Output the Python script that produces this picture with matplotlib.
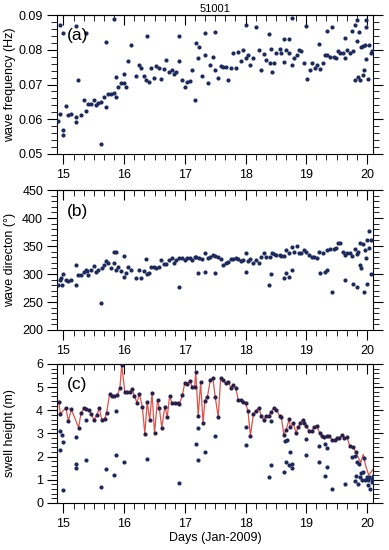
import matplotlib.pyplot as plt
from matplotlib.ticker import MultipleLocator

plt.rcParams['font.family'] = ['Liberation Sans', 'DejaVu Sans']

# (a) wave frequency
freq_day = [14.91, 14.95, 14.95, 14.99, 14.99, 14.99, 15.04, 15.08, 15.12, 15.2, 15.2, 15.2,
            15.24, 15.29, 15.33, 15.37, 15.37, 15.41, 15.45, 15.5, 15.53, 15.57, 15.62, 15.62,
            15.66, 15.7, 15.7, 15.74, 15.78, 15.83, 15.83, 15.87, 15.87, 15.9, 15.95, 15.99,
            15.99, 16.03, 16.07, 16.12, 16.2, 16.24, 16.28, 16.32, 16.36, 16.37, 16.41, 16.45,
            16.49, 16.53, 16.57, 16.61, 16.65, 16.69, 16.74, 16.78, 16.82, 16.86, 16.91, 16.91,
            16.96, 17.0, 17.04, 17.08, 17.12, 17.16, 17.18, 17.22, 17.24, 17.29, 17.33, 17.34,
            17.38, 17.42, 17.46, 17.5, 17.5, 17.55, 17.59, 17.63, 17.67, 17.71, 17.76, 17.8,
            17.84, 17.88, 17.92, 17.96, 18.0, 18.0, 18.04, 18.08, 18.13, 18.17, 18.22, 18.26,
            18.3, 18.34, 18.38, 18.4, 18.42, 18.43, 18.47, 18.51, 18.56, 18.59, 18.63, 18.64,
            18.67, 18.72, 18.72, 18.76, 18.76, 18.8, 18.84, 18.88, 18.92, 18.97, 19.0, 19.02,
            19.06, 19.1, 19.14, 19.18, 19.21, 19.23, 19.27, 19.31, 19.35, 19.35, 19.39, 19.43,
            19.45, 19.49, 19.52, 19.56, 19.6, 19.64, 19.64, 19.68, 19.72, 19.76, 19.77, 19.81,
            19.81, 19.83, 19.84, 19.86, 19.87, 19.88, 19.9, 19.93, 19.94, 19.96, 19.97, 19.98,
            19.98, 19.99, 20.01, 20.04, 20.06, 20.08]
freq_val = [0.0596, 0.0615, 0.0871, 0.0847, 0.057, 0.0555, 0.0637, 0.0613, 0.0615, 0.0606, 0.0592, 0.0868,
            0.0713, 0.0613, 0.0656, 0.0624, 0.0849, 0.0643, 0.0644, 0.0656, 0.0641, 0.0647, 0.0651, 0.0529,
            0.0663, 0.0634, 0.0823, 0.0673, 0.0673, 0.0675, 0.0889, 0.0665, 0.0723, 0.0694, 0.0704, 0.0704,
            0.0731, 0.0694, 0.0768, 0.0814, 0.0725, 0.0755, 0.0747, 0.0725, 0.0713, 0.0841, 0.0708, 0.0747,
            0.0718, 0.0752, 0.0747, 0.0717, 0.0744, 0.0771, 0.0737, 0.0742, 0.0731, 0.0737, 0.0768, 0.0841,
            0.0713, 0.0692, 0.0706, 0.0709, 0.0742, 0.0656, 0.0819, 0.0776, 0.0809, 0.0725, 0.0785, 0.0849,
            0.0704, 0.0757, 0.0779, 0.085, 0.0742, 0.072, 0.0752, 0.0749, 0.0749, 0.0713, 0.0747, 0.079,
            0.0747, 0.0793, 0.0768, 0.0799, 0.0871, 0.0777, 0.0785, 0.0755, 0.0776, 0.0866, 0.0799, 0.0742,
            0.0787, 0.0771, 0.0844, 0.0761, 0.0802, 0.0736, 0.0761, 0.079, 0.0802, 0.079, 0.083, 0.0764,
            0.0799, 0.083, 0.0792, 0.0756, 0.089, 0.0776, 0.0785, 0.0799, 0.0795, 0.0761, 0.0868, 0.0715,
            0.0742, 0.0761, 0.0747, 0.0757, 0.0816, 0.0744, 0.0761, 0.0785, 0.0854, 0.0785, 0.078, 0.0866,
            0.078, 0.0777, 0.0795, 0.079, 0.0792, 0.0776, 0.0833, 0.0799, 0.079, 0.0854, 0.0795, 0.0713,
            0.0871, 0.0826, 0.0886, 0.0723, 0.085, 0.0713, 0.0809, 0.0728, 0.0812, 0.0742, 0.0814, 0.0886,
            0.0866, 0.0774, 0.0715, 0.0814, 0.079, 0.0795]

# (b) wave direction
dir_day = [14.91, 14.95, 14.96, 14.98, 14.99, 15.04, 15.08, 15.12, 15.2, 15.2, 15.24, 15.29,
           15.33, 15.37, 15.39, 15.41, 15.45, 15.5, 15.53, 15.57, 15.62, 15.63, 15.66, 15.7,
           15.74, 15.78, 15.83, 15.83, 15.87, 15.87, 15.9, 15.95, 15.99, 15.99, 16.03, 16.07,
           16.12, 16.2, 16.24, 16.28, 16.32, 16.36, 16.38, 16.41, 16.45, 16.49, 16.53, 16.57,
           16.61, 16.65, 16.69, 16.74, 16.78, 16.82, 16.86, 16.9, 16.91, 16.96, 17.0, 17.04,
           17.08, 17.12, 17.16, 17.19, 17.21, 17.24, 17.28, 17.33, 17.34, 17.38, 17.42, 17.46,
           17.5, 17.5, 17.55, 17.59, 17.63, 17.67, 17.71, 17.76, 17.8, 17.84, 17.88, 17.92,
           17.96, 18.0, 18.0, 18.04, 18.08, 18.13, 18.17, 18.22, 18.26, 18.3, 18.34, 18.38,
           18.4, 18.42, 18.43, 18.47, 18.51, 18.56, 18.59, 18.63, 18.64, 18.67, 18.67, 18.72,
           18.72, 18.76, 18.76, 18.8, 18.84, 18.88, 18.92, 18.97, 19.0, 19.05, 19.09, 19.13,
           19.18, 19.21, 19.23, 19.27, 19.31, 19.34, 19.35, 19.39, 19.43, 19.45, 19.49, 19.52,
           19.56, 19.6, 19.64, 19.64, 19.68, 19.72, 19.76, 19.77, 19.81, 19.83, 19.84, 19.86,
           19.88, 19.89, 19.91, 19.94, 19.95, 19.97, 19.98, 20.0, 20.0, 20.04, 20.04, 20.06,
           20.07]
dir_val = [281, 290, 292, 281, 300, 290, 287, 289, 316, 280, 298, 299,
           304, 307, 306, 298, 307, 314, 304, 308, 249, 310, 316, 324,
           320, 310, 340, 320, 340, 308, 312, 306, 332, 294, 302, 312,
           307, 292, 307, 292, 306, 326, 300, 302, 312, 312, 310, 312,
           325, 318, 318, 325, 328, 319, 325, 277, 328, 329, 325, 328,
           328, 325, 330, 331, 302, 328, 326, 338, 304, 328, 330, 334,
           302, 333, 330, 326, 316, 320, 322, 326, 326, 328, 326, 324,
           325, 337, 304, 324, 326, 320, 325, 320, 330, 337, 330, 280,
           331, 300, 338, 336, 334, 334, 333, 333, 292, 301, 343, 294,
           338, 308, 349, 340, 350, 337, 338, 342, 340, 334, 330, 330,
           329, 340, 302, 337, 304, 307, 343, 344, 268, 344, 346, 355,
           356, 340, 290, 334, 337, 338, 333, 283, 344, 336, 277, 340,
           316, 355, 310, 354, 268, 343, 328, 361, 282, 346, 377, 360,
           300]

# (c) swell height: main series (line) and other partitions (dots)
swell_day = [14.92, 14.95, 15.04, 15.08, 15.13, 15.25, 15.29, 15.34, 15.37, 15.42, 15.46, 15.5,
             15.55, 15.59, 15.63, 15.68, 15.71, 15.76, 15.8, 15.84, 15.89, 15.93, 15.96, 16.01,
             16.05, 16.09, 16.13, 16.17, 16.21, 16.25, 16.3, 16.34, 16.38, 16.42, 16.46, 16.5,
             16.55, 16.58, 16.62, 16.67, 16.71, 16.75, 16.79, 16.83, 16.88, 16.91, 16.96, 17.0,
             17.04, 17.08, 17.12, 17.16, 17.18, 17.22, 17.26, 17.3, 17.33, 17.37, 17.42, 17.46,
             17.5, 17.55, 17.59, 17.63, 17.67, 17.71, 17.76, 17.8, 17.84, 17.88, 17.92, 17.96,
             18.0, 18.04, 18.08, 18.13, 18.17, 18.22, 18.26, 18.3, 18.34, 18.38, 18.42, 18.47,
             18.51, 18.56, 18.59, 18.63, 18.67, 18.72, 18.74, 18.79, 18.83, 18.87, 18.9, 18.94,
             18.97, 19.0, 19.05, 19.09, 19.13, 19.17, 19.22, 19.26, 19.29, 19.34, 19.38, 19.42,
             19.47, 19.5, 19.54, 19.59, 19.63, 19.67, 19.72, 19.77, 19.82, 19.86, 19.9, 19.94,
             19.98, 20.03, 20.1]
swell_val = [4.37, 3.84, 4.11, 3.54, 4.04, 3.25, 3.9, 4.09, 4.05, 4.01, 3.83, 3.58,
             3.8, 4.11, 3.58, 3.64, 3.9, 4.69, 4.62, 4.62, 4.66, 4.98, 5.96, 4.8,
             4.78, 4.8, 4.91, 4.62, 4.33, 4.7, 4.16, 2.98, 4.37, 3.58, 4.73, 3.01,
             4.45, 4.09, 3.25, 4.16, 3.72, 4.62, 4.3, 4.3, 4.33, 4.27, 4.66, 5.2,
             5.14, 5.27, 5.02, 5.02, 5.64, 3.76, 5.21, 3.44, 4.42, 4.56, 5.31, 5.41,
             4.59, 3.7, 5.38, 5.31, 5.17, 5.24, 4.98, 5.1, 4.95, 4.45, 4.45, 4.38,
             4.31, 3.98, 2.9, 3.85, 3.99, 4.12, 3.76, 3.59, 3.76, 3.76, 3.92, 4.12,
             4.02, 3.76, 3.73, 2.94, 3.16, 3.63, 3.26, 3.44, 3.04, 3.27, 3.44, 3.59,
             3.44, 3.33, 3.09, 3.11, 3.27, 3.33, 3.04, 2.87, 2.83, 2.87, 2.9, 2.73,
             2.73, 2.8, 2.8, 2.94, 2.8, 2.83, 2.45, 2.4, 2.2, 1.95, 1.75, 2.1,
             1.6, 1.2, 1.45]
part_day = [14.95, 14.95, 14.98, 14.99, 14.99, 15.2, 15.2, 15.2, 15.37, 15.37, 15.62, 15.7,
            15.83, 15.87, 15.87, 15.99, 16.37, 16.91, 17.18, 17.22, 17.22, 17.33, 17.5, 18.0,
            18.0, 18.38, 18.42, 18.42, 18.63, 18.65, 18.67, 18.68, 18.72, 18.74, 18.76, 18.76,
            19.0, 19.0, 19.21, 19.21, 19.31, 19.31, 19.34, 19.35, 19.43, 19.64, 19.76, 19.8,
            19.81, 19.82, 19.84, 19.86, 19.87, 19.88, 19.9, 19.92, 19.93, 19.96, 19.97, 20.0,
            20.01, 20.02, 20.04, 20.05, 20.08, 20.09, 20.1]
part_val = [3.09, 2.3, 2.94, 2.63, 0.57, 2.83, 1.69, 1.51, 3.59, 1.87, 0.67, 1.46,
            1.22, 3.98, 2.08, 1.77, 1.89, 0.86, 2.56, 3.23, 1.87, 2.2, 2.9, 3.27,
            2.51, 1.11, 3.55, 1.65, 1.32, 2.66, 1.75, 2.7, 1.65, 2.18, 1.69, 1.51,
            2.76, 2.08, 2.47, 1.79, 2.56, 1.18, 2.37, 1.54, 0.62, 0.82, 1.98, 2.01,
            0.96, 1.18, 1.79, 0.82, 1.68, 1.12, 1.29, 0.98, 1.32, 1.94, 1.0, 1.12,
            0.79, 1.0, 1.12, 0.6, 1.03, 0.89, 1.15]

dot_color = '#1c2a5e'
day_ticks = [15, 16, 17, 18, 19, 20]
fs = 9

fig = plt.figure(figsize=(3.89, 5.5), dpi=100)
left, width = 0.1465, 0.8123
axes = [fig.add_axes([left, 0.72, width, 0.2527]),
        fig.add_axes([left, 0.40, width, 0.2545]),
        fig.add_axes([left, 0.0855, width, 0.2527])]
ax_a, ax_b, ax_c = axes

ax_a.scatter(freq_day, freq_val, s=9, color=dot_color, linewidths=0, zorder=3)
ax_b.scatter(dir_day, dir_val, s=9, color=dot_color, linewidths=0, zorder=3)
ax_c.plot(swell_day, swell_val, color='#e0524a', lw=0.9, zorder=2)
ax_c.scatter(swell_day[:-6], swell_val[:-6], s=9, color='#2a1e4a', linewidths=0, zorder=3)
ax_c.scatter(part_day, part_val, s=9, color=dot_color, linewidths=0, zorder=3)

ax_a.set_ylim(0.05, 0.09)
ax_a.set_yticks([0.05, 0.06, 0.07, 0.08, 0.09], ['0.05', '0.06', '0.07', '0.08', '0.09'])
ax_a.yaxis.set_minor_locator(MultipleLocator(0.002))
ax_b.set_ylim(200, 450)
ax_b.yaxis.set_major_locator(MultipleLocator(50))
ax_b.yaxis.set_minor_locator(MultipleLocator(10))
ax_c.set_ylim(0, 6)
ax_c.yaxis.set_major_locator(MultipleLocator(1))
ax_c.yaxis.set_minor_locator(MultipleLocator(0.2))

ax_a.set_ylabel('wave frequency (Hz)', fontsize=fs)
ax_b.set_ylabel('wave directon (°)', fontsize=fs)
ax_c.set_ylabel('swell height (m)', fontsize=fs)
ax_c.set_xlabel('Days (Jan-2009)', fontsize=fs, labelpad=1)

for ax, tag in zip(axes, ['(a)', '(b)', '(c)']):
    ax.set_xlim(14.893, 20.10)
    ax.set_xticks(day_ticks)
    ax.xaxis.set_minor_locator(MultipleLocator(1 / 6))
    ax.tick_params(axis='x', which='both', direction='out', top=False, labelsize=fs, pad=4)
    ax.tick_params(axis='x', which='major', length=7, width=0.8)
    ax.tick_params(axis='x', which='minor', length=4, width=0.6)
    ax.tick_params(axis='y', which='both', direction='out', left=True, right=True,
                   labelright=False, labelsize=fs, pad=3)
    ax.tick_params(axis='y', which='major', length=7, width=0.8)
    ax.tick_params(axis='y', which='minor', length=4, width=0.6)
    top = ax.secondary_xaxis('top')
    top.set_xticks(day_ticks)
    top.xaxis.set_minor_locator(MultipleLocator(1 / 6))
    top.tick_params(axis='x', which='both', direction='in', labeltop=False)
    top.tick_params(axis='x', which='major', length=7, width=0.8)
    top.tick_params(axis='x', which='minor', length=4, width=0.6)
    ax.yaxis.set_label_coords(-0.13, 0.5)
    ax.text(0.03, 0.85, tag, transform=ax.transAxes, fontsize=12.5, va='center')
    for sp in ax.spines.values():
        sp.set_linewidth(0.8)

fig.text(left + width / 2, 0.984, '51001', ha='center', va='center', fontsize=8)

fig.savefig('out.png', dpi=100)
